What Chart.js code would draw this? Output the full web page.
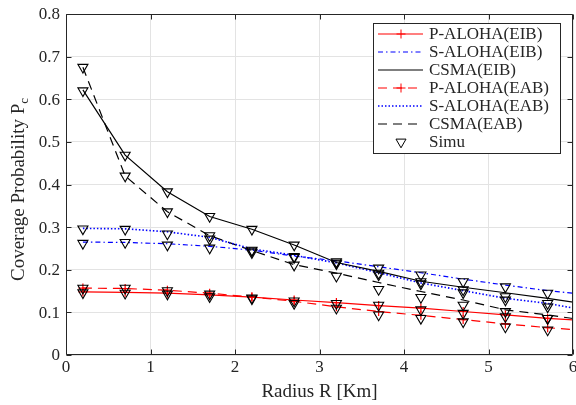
<!DOCTYPE html>
<html>
<head>
<meta charset="utf-8">
<script src="https://cdn.jsdelivr.net/npm/chart.js@4.4.1/dist/chart.umd.min.js"></script>
<style>
  html, body { margin: 0; padding: 0; background: #fff; overflow: hidden; }
  #wrap { width: 576px; height: 405px; }
  canvas { display: block; }
</style>
</head>
<body>
<div id="wrap"><canvas id="chart"></canvas></div>
<script>
// analytic curves (last point lies past the axis and gets clipped)
const radius = [0.2, 0.7, 1.2, 1.7, 2.2, 2.7, 3.2, 3.7, 4.2, 4.7, 5.2, 5.7, 6.2];
const pAlohaEIB = [0.148, 0.147, 0.145, 0.141, 0.136, 0.129, 0.123, 0.116, 0.110, 0.102, 0.094, 0.086, 0.080];
const sAlohaEIB = [0.265, 0.264, 0.261, 0.255, 0.246, 0.232, 0.221, 0.207, 0.193, 0.178, 0.164, 0.151, 0.141];
const csmaEIB   = [0.622, 0.469, 0.383, 0.325, 0.295, 0.258, 0.217, 0.196, 0.173, 0.159, 0.146, 0.133, 0.118];
const pAlohaEAB = [0.157, 0.156, 0.152, 0.145, 0.136, 0.126, 0.113, 0.102, 0.093, 0.083, 0.073, 0.064, 0.057];
const sAlohaEAB = [0.297, 0.296, 0.289, 0.276, 0.249, 0.234, 0.216, 0.193, 0.169, 0.151, 0.133, 0.121, 0.103];
const csmaEAB   = [0.675, 0.420, 0.336, 0.280, 0.245, 0.212, 0.192, 0.170, 0.149, 0.129, 0.106, 0.094, 0.080];

// simulation points
const simuRadius = [0.2, 0.7, 1.2, 1.7, 2.2, 2.7, 3.2, 3.7, 4.2, 4.7, 5.2, 5.7];
const simuPAlohaEIB = [0.146, 0.145, 0.143, 0.137, 0.132, 0.127, 0.121, 0.117, 0.106, 0.098, 0.090, 0.086];
const simuSAlohaEIB = [0.262, 0.264, 0.258, 0.251, 0.240, 0.229, 0.219, 0.204, 0.188, 0.172, 0.160, 0.145];
const simuCsmaEIB   = [0.620, 0.469, 0.383, 0.325, 0.295, 0.258, 0.216, 0.192, 0.172, 0.153, 0.137, 0.121];
const simuPAlohaEAB = [0.157, 0.157, 0.151, 0.143, 0.134, 0.121, 0.110, 0.094, 0.086, 0.078, 0.066, 0.059];
const simuSAlohaEAB = [0.296, 0.295, 0.284, 0.280, 0.246, 0.231, 0.214, 0.188, 0.167, 0.146, 0.129, 0.113];
const simuCsmaEAB   = [0.675, 0.420, 0.336, 0.272, 0.244, 0.211, 0.185, 0.154, 0.135, 0.117, 0.102, 0.086];

const xTicks = [0, 1, 2, 3, 4, 5, 6];
const yTicks = ['0', '0.1', '0.2', '0.3', '0.4', '0.5', '0.6', '0.7', '0.8'];

const serif = "'Liberation Serif', 'Times New Roman', serif";
const axisColor = '#262626';

function pts(xs, ys) {
  return ys.map((y, i) => ({ x: xs[i], y: y }));
}

function curve(label, ys, color, dash, extra) {
  return Object.assign({
    label: label,
    data: pts(radius, ys),
    borderColor: color,
    backgroundColor: color,
    borderWidth: 1.2,
    borderDash: dash,
    pointRadius: 0,
    tension: 0,
    order: 1
  }, extra || {});
}

function simu(ys, inLegend) {
  return {
    label: inLegend ? 'Simu' : '',
    data: pts(simuRadius, ys),
    showLine: false,
    pointStyle: 'triangle',
    rotation: 180,
    pointRadius: 5.8,
    pointBorderWidth: 1.1,
    pointBorderColor: '#000',
    pointBackgroundColor: 'rgba(0,0,0,0)',
    borderColor: '#000',
    backgroundColor: 'rgba(0,0,0,0)',
    order: 0,
    inLegend: inLegend
  };
}

const plusMarker = {
  pointStyle: 'cross', pointRadius: 4.5, pointBorderWidth: 1.2,
  pointBorderColor: '#ff0000', pointBackgroundColor: '#ff0000'
};

const datasets = [
  curve('P-ALOHA(EIB)', pAlohaEIB, '#ff0000', [], plusMarker),
  curve('S-ALOHA(EIB)', sAlohaEIB, '#0000ff', [5, 3, 1.5, 3]),
  curve('CSMA(EIB)', csmaEIB, '#000000', []),
  curve('P-ALOHA(EAB)', pAlohaEAB, '#ff0000', [9, 6], plusMarker),
  curve('S-ALOHA(EAB)', sAlohaEAB, '#0000ff', [1.5, 2], { borderWidth: 1.6 }),
  curve('CSMA(EAB)', csmaEAB, '#000000', [9, 6]),
  simu(simuPAlohaEIB, true),
  simu(simuSAlohaEIB, false),
  simu(simuCsmaEIB, false),
  simu(simuPAlohaEAB, false),
  simu(simuSAlohaEAB, false),
  simu(simuCsmaEAB, false)
];

// box around axes, inward ticks on all four sides, tick labels, y title
const matlabBox = {
  id: 'matlabBox',
  afterDraw(chart) {
    const ctx = chart.ctx, a = chart.chartArea;
    const xs = chart.scales.x, ys = chart.scales.y;
    const L = Math.round(a.left) + 0.5, R = Math.round(a.right) - 0.5;
    const T = Math.round(a.top) + 0.5, B = Math.round(a.bottom) - 0.5;
    ctx.save();
    ctx.strokeStyle = axisColor;
    ctx.lineWidth = 1;
    ctx.beginPath();
    ctx.rect(L, T, R - L, B - T);
    xTicks.forEach(v => {
      const px = Math.round(xs.getPixelForValue(v)) + 0.5;
      ctx.moveTo(px, B); ctx.lineTo(px, B - 5);
      ctx.moveTo(px, T); ctx.lineTo(px, T + 5);
    });
    yTicks.forEach(t => {
      const py = Math.round(ys.getPixelForValue(parseFloat(t))) + 0.5;
      ctx.moveTo(L, py); ctx.lineTo(L + 5, py);
      ctx.moveTo(R, py); ctx.lineTo(R - 5, py);
    });
    ctx.stroke();

    // tick labels
    ctx.fillStyle = axisColor;
    ctx.font = '17px ' + serif;
    ctx.textBaseline = 'middle';
    ctx.textAlign = 'center';
    xTicks.forEach(v => {
      ctx.fillText(String(v), xs.getPixelForValue(v), a.bottom + 13);
    });
    ctx.textAlign = 'right';
    yTicks.forEach(t => {
      ctx.fillText(t, a.left - 6, ys.getPixelForValue(parseFloat(t)) + 1);
    });

    // y axis title with subscript
    ctx.translate(24, (a.top + a.bottom) / 2 + 5);
    ctx.rotate(-Math.PI / 2);
    const main = 'Coverage Probability P';
    ctx.font = '19px ' + serif;
    const wMain = ctx.measureText(main).width;
    ctx.font = '13px ' + serif;
    const wSub = ctx.measureText('c').width;
    const x0 = -(wMain + wSub) / 2;
    ctx.textBaseline = 'alphabetic';
    ctx.textAlign = 'left';
    ctx.font = '19px ' + serif;
    ctx.fillText(main, x0, 0);
    ctx.font = '13px ' + serif;
    ctx.fillText('c', x0 + wMain, 4);
    ctx.restore();
  }
};

// MATLAB-like legend: line sample with marker, then text
const boxLegend = {
  id: 'boxLegend',
  afterDraw(chart) {
    const ctx = chart.ctx, a = chart.chartArea;
    const items = chart.data.datasets.filter(d => d.order === 1 || d.inLegend);
    const w = 187, h = 130;
    const x0 = Math.round(a.right) - 13 - w, y0 = Math.round(a.top) + 9;
    ctx.save();
    ctx.fillStyle = '#fff';
    ctx.fillRect(x0, y0, w, h);
    ctx.strokeStyle = axisColor;
    ctx.lineWidth = 1;
    ctx.strokeRect(x0 + 0.5, y0 + 0.5, w, h);
    items.forEach((d, i) => {
      const y = y0 + 11 + i * 18;
      const mid = x0 + 28;
      if (d.showLine !== false) {
        ctx.save();
        ctx.strokeStyle = d.borderColor;
        ctx.lineWidth = d.borderWidth;
        ctx.setLineDash(d.borderDash || []);
        ctx.beginPath();
        ctx.moveTo(x0 + 5, y);
        ctx.lineTo(x0 + 50, y);
        ctx.stroke();
        ctx.restore();
      }
      if (d.pointRadius > 0) {
        ctx.save();
        ctx.strokeStyle = d.pointBorderColor;
        ctx.fillStyle = d.pointBackgroundColor;
        Chart.helpers.drawPoint(ctx, {
          pointStyle: d.pointStyle, rotation: d.rotation || 0,
          radius: d.pointRadius, borderWidth: d.pointBorderWidth
        }, mid, y);
        ctx.restore();
      }
      ctx.fillStyle = axisColor;
      ctx.font = '17px ' + serif;
      ctx.textBaseline = 'middle';
      ctx.textAlign = 'left';
      ctx.fillText(d.label, x0 + 56, y + 1);
    });
    ctx.restore();
  }
};

new Chart(document.getElementById('chart'), {
  type: 'line',
  data: { datasets: datasets },
  options: {
    responsive: true,
    maintainAspectRatio: false,
    animation: false,
    layout: { autoPadding: false, padding: { left: 0, top: 14, right: 3, bottom: 0 } },
    plugins: {
      legend: { display: false },
      tooltip: { enabled: false }
    },
    scales: {
      x: {
        type: 'linear',
        min: 0, max: 6,
        afterBuildTicks: s => { s.ticks = xTicks.map(v => ({ value: v })); },
        afterFit: s => { s.height = 50; },
        ticks: { display: false },
        grid: { color: '#e3e3e3', drawTicks: false },
        border: { display: false },
        title: {
          display: true,
          text: 'Radius R [Km]',
          color: axisColor,
          font: { family: serif, size: 19 },
          padding: { top: 0, bottom: 2 }
        }
      },
      y: {
        type: 'linear',
        min: 0, max: 0.8,
        afterBuildTicks: s => { s.ticks = yTicks.map(t => ({ value: parseFloat(t) })); },
        afterFit: s => { s.width = 66; },
        ticks: { display: false },
        grid: { color: '#e3e3e3', drawTicks: false },
        border: { display: false }
      }
    }
  },
  plugins: [matlabBox, boxLegend]
});
</script>
</body>
</html>
